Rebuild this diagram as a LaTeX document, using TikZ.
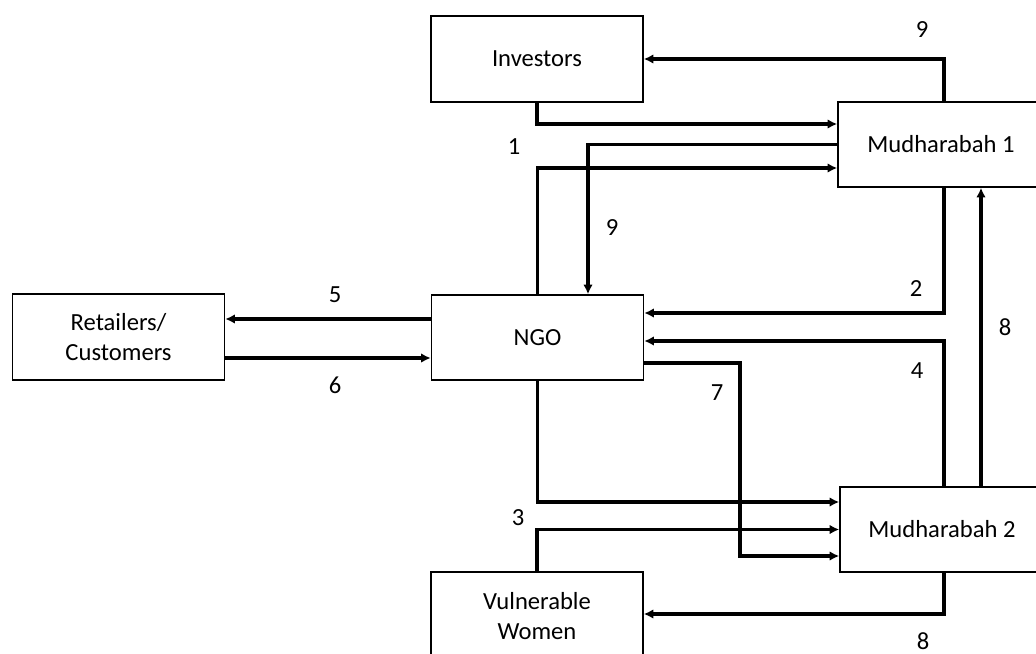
\documentclass[tikz,border=0pt]{standalone}
\usepackage{fontspec}
\setmainfont{Carlito}
\usetikzlibrary{arrows.meta}
\usetikzlibrary{shapes}

\begin{document}
\begin{tikzpicture}[x=0.2mm, y=-0.2mm, font=\fontsize{14pt}{17pt}\selectfont]

\tikzstyle{party}=[rectangle, draw=black, line width=0.9pt, fill=white, align=center, minimum width=42.4mm, minimum height=17.2mm, inner sep=0pt]
\tikzstyle{connect}=[-{Latex[length=1.9mm, width=1.9mm]}, line width=1.9pt]

\clip (0,0) rectangle (1036,653);

\node[party] (inv) at (537,59)  {Investors};
\node[party, minimum width=41.2mm, minimum height=17mm] (mud1) at (941,144.5)  {Mudharabah 1};
\node[party, minimum height=17mm] (ngo) at (537.5,337.5)  {NGO};
\node[party] (ret) at (118.5,337)  {Retailers/\\Customers};
\node[party, minimum width=40.8mm, minimum height=17mm] (mud2) at (942,529.5)  {Mudharabah 2};
\node[party, minimum height=17.6mm] (vw) at (537,616)  {Vulnerable\\Women};


\node (l9a) at (922,30)  {9};
\node (l1) at (514,147)  {1};
\node (l9b) at (612,228)  {9};
\node (l2) at (916,289)  {2};
\node (l8a) at (1005,327)  {8};
\node (l4) at (917,371)  {4};
\node (l7) at (717,393)  {7};
\node (l3) at (518,518)  {3};
\node (l8b) at (923,641)  {8};
\node (l5) at (335,295)  {5};
\node (l6) at (335,385)  {6};

% investors / mudharabah 1
\draw[connect] (944,0 |- mud1.north) |- (inv.east);
\draw[connect] (inv.south) |- (mud1.west |- 0,124);
\draw[connect] (mud1.west) -| (588,0 |- ngo.north);
\draw[connect] (ngo.north) |- (mud1.west |- 0,168);

\draw[connect] (944,0 |- mud1.south) |- (ngo.east |- 0,313);
\draw[connect] (944,0 |- mud2.north) |- (ngo.east |- 0,341);
\draw[connect] (981,0 |- mud2.north) -- (981,0 |- mud1.south);

% mudharabah 2
\draw[connect] (ngo.east |- 0,363) -| (740,460) |- (mud2.west |- 0,556);
\draw[connect] (ngo.south) |- (mud2.west |- 0,502);
\draw[connect] (vw.north) |- (mud2.west);
\draw[connect] (944,0 |- mud2.south) |- (vw.east |- 0,614);

% retailers
\draw[connect] (ngo.west |- 0,319) -- (ret.east |- 0,319);
\draw[connect] (ret.east |- 0,358) -- (ngo.west |- 0,358);

\end{tikzpicture}
\end{document}
